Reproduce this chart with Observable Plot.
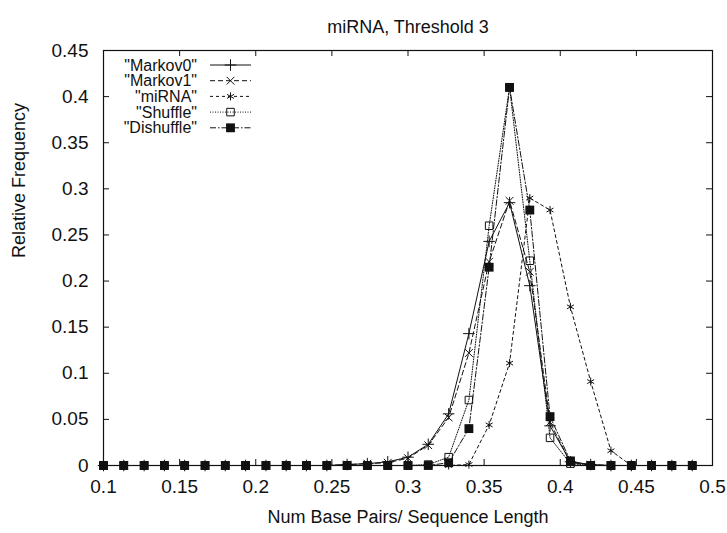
<!DOCTYPE html>
<html><head><meta charset="utf-8">
<script src="https://cdn.jsdelivr.net/npm/d3@7"></script>
<script src="https://cdn.jsdelivr.net/npm/@observablehq/plot@0.6"></script>
<style>body{margin:0;background:#fff}</style>
</head><body><div id="chart"></div>
<script>
const title = "miRNA, Threshold 3";
const xLabel = "Num Base Pairs/ Sequence Length";
const yLabel = "Relative Frequency";
const xTicks = [0.1, 0.15, 0.2, 0.25, 0.3, 0.35, 0.4, 0.45, 0.5];
const yTicks = [0, 0.05, 0.1, 0.15, 0.2, 0.25, 0.3, 0.35, 0.4, 0.45];

const xValues = [0.1, 0.1133, 0.1267, 0.14, 0.1533, 0.1667, 0.18, 0.1933, 0.2067, 0.22,
  0.2333, 0.2467, 0.26, 0.2733, 0.2867, 0.3, 0.3133, 0.3267, 0.34, 0.3533,
  0.3667, 0.38, 0.3933, 0.4067, 0.42, 0.4333, 0.4467, 0.46, 0.4733, 0.4867];

const markov0 = [0, 0, 0, 0, 0, 0, 0, 0, 0, 0,
  0, 0, 0.001, 0.002, 0.004, 0.009, 0.023, 0.056, 0.143, 0.243,
  0.285, 0.195, 0.043, 0.004, 0.001, 0, 0, 0, 0, 0];
const markov1 = [0, 0, 0, 0, 0, 0, 0, 0, 0, 0,
  0, 0, 0.001, 0.002, 0.003, 0.008, 0.022, 0.052, 0.122, 0.221,
  0.287, 0.21, 0.047, 0.003, 0.001, 0, 0, 0, 0, 0];
const mirna = [0, 0, 0, 0, 0, 0, 0, 0, 0, 0,
  0, 0, 0, 0, 0, 0, 0, 0, 0.001, 0.044,
  0.111, 0.29, 0.277, 0.172, 0.091, 0.016, 0, 0, 0, 0];
const shuffle = [0, 0, 0, 0, 0, 0, 0, 0, 0, 0,
  0, 0, 0, 0, 0, 0, 0.001, 0.009, 0.071, 0.26,
  0.41, 0.222, 0.03, 0.002, 0, 0, 0, 0, 0, 0];
const dishuffle = [0, 0, 0, 0, 0, 0, 0, 0, 0, 0,
  0, 0, 0, 0, 0, 0, 0, 0.003, 0.04, 0.215,
  0.41, 0.277, 0.053, 0.005, 0, 0, 0, 0, 0, 0];

const seriesNames = ["\"Markov0\"", "\"Markov1\"", "\"miRNA\"", "\"Shuffle\"", "\"Dishuffle\""];
const seriesValues = [markov0, markov1, mirna, shuffle, dishuffle];

// styles (kept apart from data)
const styles = [
  {dash: null, symbol: "plus", d3sym: d3.symbolPlus, filled: false, r: 3.8},
  {dash: "5,3", symbol: "times", d3sym: d3.symbolTimes, filled: false, r: 3.6},
  {dash: "3,3", symbol: "asterisk", d3sym: d3.symbolAsterisk, filled: false, r: 3.8},
  {dash: "1,1.5", symbol: "square2", d3sym: d3.symbolSquare2, filled: false, r: 4.8},
  {dash: "6,2,1.5,2", symbol: "square", d3sym: d3.symbolSquare, filled: true, r: 5}
];
const ink = "#111";

const W = 727, H = 533;
const mL = 103, mR = 15, mT = 50, mB = 68;
const pw = W - mL - mR, ph = H - mT - mB;
const tickLen = 6;

const rows = [];
seriesNames.forEach((name, s) => {
  xValues.forEach((x, i) => rows.push({series: name, s, x, y: seriesValues[s][i]}));
});

const seriesMarks = [];
seriesNames.forEach((name, s) => {
  const st = styles[s];
  const data = rows.filter(d => d.s === s);
  seriesMarks.push(Plot.line(data, {x: "x", y: "y", stroke: ink, strokeWidth: 1,
    strokeDasharray: st.dash, curve: "linear"}));
});
seriesNames.forEach((name, s) => {
  const st = styles[s];
  const data = rows.filter(d => d.s === s);
  seriesMarks.push(Plot.dot(data, {x: "x", y: "y", symbol: st.symbol, r: st.r,
    stroke: st.filled ? "none" : ink, fill: st.filled ? ink : "none", strokeWidth: 1}));
});

function legend(index, scales, values, dimensions) {
  const g = d3.create("svg:g").attr("font-family", "Liberation Sans, Arial, sans-serif").attr("font-size", 16);
  const x0 = dimensions.marginLeft;
  seriesNames.forEach((name, i) => {
    const st = styles[i];
    const y = dimensions.marginTop + 15 + i * 15.7;
    g.append("text").attr("x", x0 + 94).attr("y", y).attr("dy", "0.35em")
      .attr("text-anchor", "end").attr("fill", ink).text(name);
    g.append("line").attr("x1", x0 + 107).attr("x2", x0 + 148).attr("y1", y).attr("y2", y)
      .attr("stroke", ink).attr("stroke-width", 1).attr("stroke-dasharray", st.dash);
    const size = st.r * st.r * Math.PI;
    g.append("path").attr("transform", `translate(${x0 + 127.5},${y})`)
      .attr("d", d3.symbol(st.d3sym, size)())
      .attr("fill", st.filled ? ink : "none").attr("stroke", st.filled ? "none" : ink).attr("stroke-width", 1);
  });
  return g.node();
}

const chart = Plot.plot({
  width: W, height: H,
  marginLeft: mL, marginRight: mR, marginTop: mT, marginBottom: mB,
  style: {fontFamily: "Liberation Sans, Arial, sans-serif", background: "#fff", color: ink},
  x: {domain: [0.1, 0.5]},
  y: {domain: [0, 0.45]},
  marks: [
    Plot.tickX(xTicks, {x: d => d, insetTop: ph - tickLen, stroke: ink}),
    Plot.tickX(xTicks, {x: d => d, insetBottom: ph - tickLen, stroke: ink}),
    Plot.tickY(yTicks, {y: d => d, insetRight: pw - tickLen, stroke: ink}),
    Plot.tickY(yTicks, {y: d => d, insetLeft: pw - tickLen, stroke: ink}),
    Plot.axisX({ticks: xTicks, tickSize: 0, tickPadding: 14, fontSize: 19, label: null, tickFormat: d => String(d)}),
    Plot.axisY({ticks: yTicks, tickSize: 0, tickPadding: 15, fontSize: 19, label: null, tickFormat: d => String(d)}),
    ...seriesMarks,
    Plot.frame({stroke: ink, strokeWidth: 1.2}),
    Plot.text([title], {frameAnchor: "top", dy: -30, fontSize: 18, fill: ink}),
    Plot.text([xLabel], {frameAnchor: "bottom", dy: 57, fontSize: 18, fill: ink}),
    Plot.text([yLabel], {frameAnchor: "left", dx: -84, rotate: -90, fontSize: 18, fill: ink}),
    legend
  ]
});
document.getElementById("chart").appendChild(chart);
</script>
</body></html>
